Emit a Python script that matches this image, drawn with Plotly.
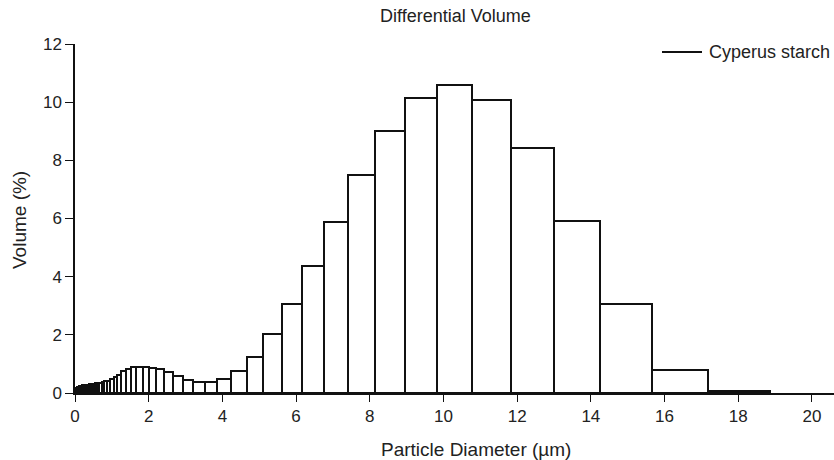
import plotly.graph_objects as go

# channel edges (um) and differential volume (%) per channel
edges = [0.040, 0.044, 0.048, 0.053, 0.058, 0.064, 0.070, 0.077, 0.084, 0.093,
         0.102, 0.112, 0.123, 0.135, 0.148, 0.162, 0.178, 0.196, 0.215, 0.236,
         0.259, 0.284, 0.312, 0.343, 0.375, 0.412, 0.452, 0.496, 0.545, 0.598,
         0.657, 0.721, 0.791, 0.869, 0.954, 1.047, 1.149, 1.261, 1.385, 1.520,
         1.669, 1.832, 2.011, 2.207, 2.423, 2.660, 2.920, 3.205, 3.519, 3.863,
         4.240, 4.655, 5.110, 5.610, 6.158, 6.760, 7.421, 8.147, 8.943, 9.817,
         10.78, 11.83, 12.99, 14.26, 15.65, 17.18, 18.86]
volume = [0.16, 0.17, 0.18, 0.19, 0.19, 0.20, 0.20, 0.21, 0.21, 0.22,
          0.22, 0.23, 0.23, 0.24, 0.24, 0.25, 0.25, 0.26, 0.26, 0.27,
          0.27, 0.28, 0.28, 0.29, 0.30, 0.30, 0.31, 0.32, 0.33, 0.34,
          0.36, 0.38, 0.40, 0.42, 0.47, 0.54, 0.63, 0.74, 0.82, 0.88,
          0.90, 0.90, 0.86, 0.81, 0.71, 0.60, 0.45, 0.39, 0.39, 0.47,
          0.76, 1.25, 2.02, 3.05, 4.37, 5.89, 7.49, 9.01, 10.14, 10.58,
          10.06, 8.41, 5.93, 3.05, 0.79, 0.08]
x_ticks = [0, 2, 4, 6, 8, 10, 12, 14, 16, 18, 20]
y_ticks = [0, 2, 4, 6, 8, 10, 12]
series_name = "Cyperus starch"

centers = [(a + b) / 2 for a, b in zip(edges[:-1], edges[1:])]
widths = [b - a for a, b in zip(edges[:-1], edges[1:])]

font = dict(family="Liberation Sans, Arial, sans-serif", color="#222")

# plot area in pixels
L, R, T, B = 75, 834, 44, 393
pw, ph = R - L, B - T


def px_x(x):
    return (x - L) / pw


def px_y(y):
    return (B - y) / ph


def label(text, x, y, size, **kw):
    return dict(text=text, x=px_x(x), y=px_y(y), xref="paper", yref="paper",
                xanchor=kw.pop("xanchor", "center"), yanchor="middle",
                showarrow=False, font=dict(size=size, **font), **kw)


fig = go.Figure()
fig.add_trace(go.Bar(x=centers, y=volume, width=widths,
                     marker=dict(color="white", line=dict(color="#111", width=2)),
                     showlegend=False))

fig.update_layout(
    width=834, height=460,
    margin=dict(l=L, r=834 - R, t=T, b=460 - B, autoexpand=False),
    plot_bgcolor="white", paper_bgcolor="white",
    font=dict(size=17, **font),
    bargap=0,
    showlegend=False,
    annotations=[
        label("Differential Volume", 455, 16, 18),
        label("Particle Diameter (µm)", 476, 449, 19),
        label("Volume (%)", 19, 220, 19, textangle=-90),
        # legend
        label(series_name, 832, 52, 18, xanchor="right"),
    ],
    shapes=[dict(type="line", xref="paper", yref="paper",
                 x0=px_x(662), x1=px_x(702), y0=px_y(52), y1=px_y(52),
                 line=dict(color="#111", width=2))],
)

fig.update_xaxes(range=[0, 20.6], tickvals=x_ticks, ticks="outside", ticklen=7,
                 showline=True, linecolor="#111", linewidth=2, showgrid=False,
                 zeroline=False, tickcolor="#111", automargin=False,
                 tickfont=dict(size=17, **font))
fig.update_yaxes(range=[0, 12], tickvals=y_ticks, ticks="outside", ticklen=8,
                 showline=True, linecolor="#111", linewidth=1.5, showgrid=False,
                 zeroline=False, tickcolor="#111", automargin=False,
                 tickfont=dict(size=17, **font))

fig.write_html("out.html", config={"displayModeBar": False},
               post_script="document.body.style.margin='0';")
